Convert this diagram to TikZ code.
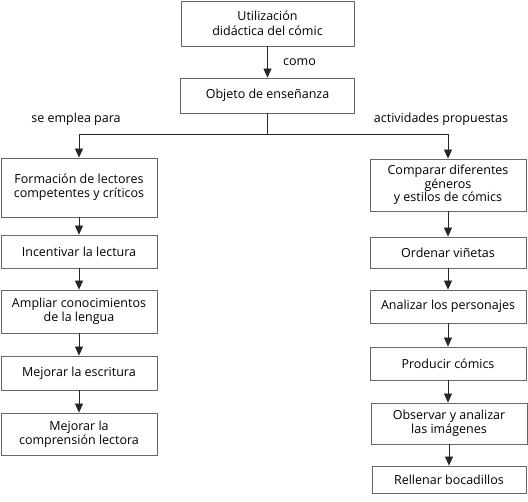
\documentclass[tikz,border=0pt]{standalone}
\usepackage{fontspec}
\setmainfont{Open Sans}
\usetikzlibrary{arrows.meta}
\begin{document}
\begin{tikzpicture}[x=1pt,y=-1pt,
  box/.style={draw=black!60,line width=0.8pt,inner sep=0pt,align=center,
    font=\fontsize{12.5}{13.6}\selectfont},
  lbl/.style={inner sep=0pt,font=\fontsize{12.5}{13.6}\selectfont},
  arr/.style={draw=black!85,line width=0.8pt,-{Triangle[width=8pt,length=9pt]}},
  ln/.style={draw=black!85,line width=0.8pt}]
\useasboundingbox (0,0) rectangle (528,502);
\node[box,minimum width=173pt,minimum height=45pt,font=\fontsize{12.5}{15.5}\selectfont] (top) at (267.5,23.5) {Utilización\\didáctica del cómic};
\node[box,minimum width=174pt,minimum height=35pt] (obj) at (267.5,95.5) {Objeto de enseñanza};
\coordinate (j) at (267.5,134);
% left column
\node[box,minimum width=156pt,minimum height=59pt] (l1) at (79,187.5) {Formación de lectores\\competentes y críticos};
\node[box,minimum width=156pt,minimum height=33pt] (l2) at (79,251.5) {Incentivar la lectura};
\node[box,minimum width=156pt,minimum height=43pt] (l3) at (79,311.5) {Ampliar conocimientos\\de la lengua};
\node[box,minimum width=156pt,minimum height=34pt] (l4) at (79,373) {Mejorar la escritura};
\node[box,minimum width=156pt,minimum height=42pt] (l5) at (79,434) {Mejorar la\\comprensión lectora};
% right column
\node[box,minimum width=156pt,minimum height=52pt] (r1) at (448,185) {Comparar diferentes\\géneros\\y estilos de cómics};
\node[box,minimum width=156pt,minimum height=31pt] (r2) at (448,252.5) {Ordenar viñetas};
\node[box,minimum width=156pt,minimum height=33pt] (r3) at (448,306.5) {Analizar los personajes};
\node[box,minimum width=156pt,minimum height=33pt] (r4) at (448,363.5) {Producir cómics};
\node[box,minimum width=156pt,minimum height=41pt] (r5) at (449,423.5) {Observar y analizar\\las imágenes};
\node[box,minimum width=154pt,minimum height=27pt] (r6) at (449,479.5) {Rellenar bocadillos};
% labels
\node[lbl] (como) at (299.5,62) {como};
\node[lbl] (sep) at (76,119) {se emplea para};
\node[lbl] (act) at (441,119) {actividades propuestas};
% connectors
\draw[arr] (top) -- (obj);
\draw[ln] (obj) -- (j);
\draw[arr] (j) -| (l1);
\draw[arr] (j) -| (r1);
\draw[arr] (l1) -- (l2);
\draw[arr] (l2) -- (l3);
\draw[arr] (l3) -- (l4);
\draw[arr] (l4) -- (l5);
\draw[arr] (r1) -- (r2);
\draw[arr] (r2) -- (r3);
\draw[arr] (r3) -- (r4);
\draw[arr] (r4.south) -- (r4.south|-r5.north);
\draw[arr] (r5.south) -- (r5.south|-r6.north);
\end{tikzpicture}
\end{document}
